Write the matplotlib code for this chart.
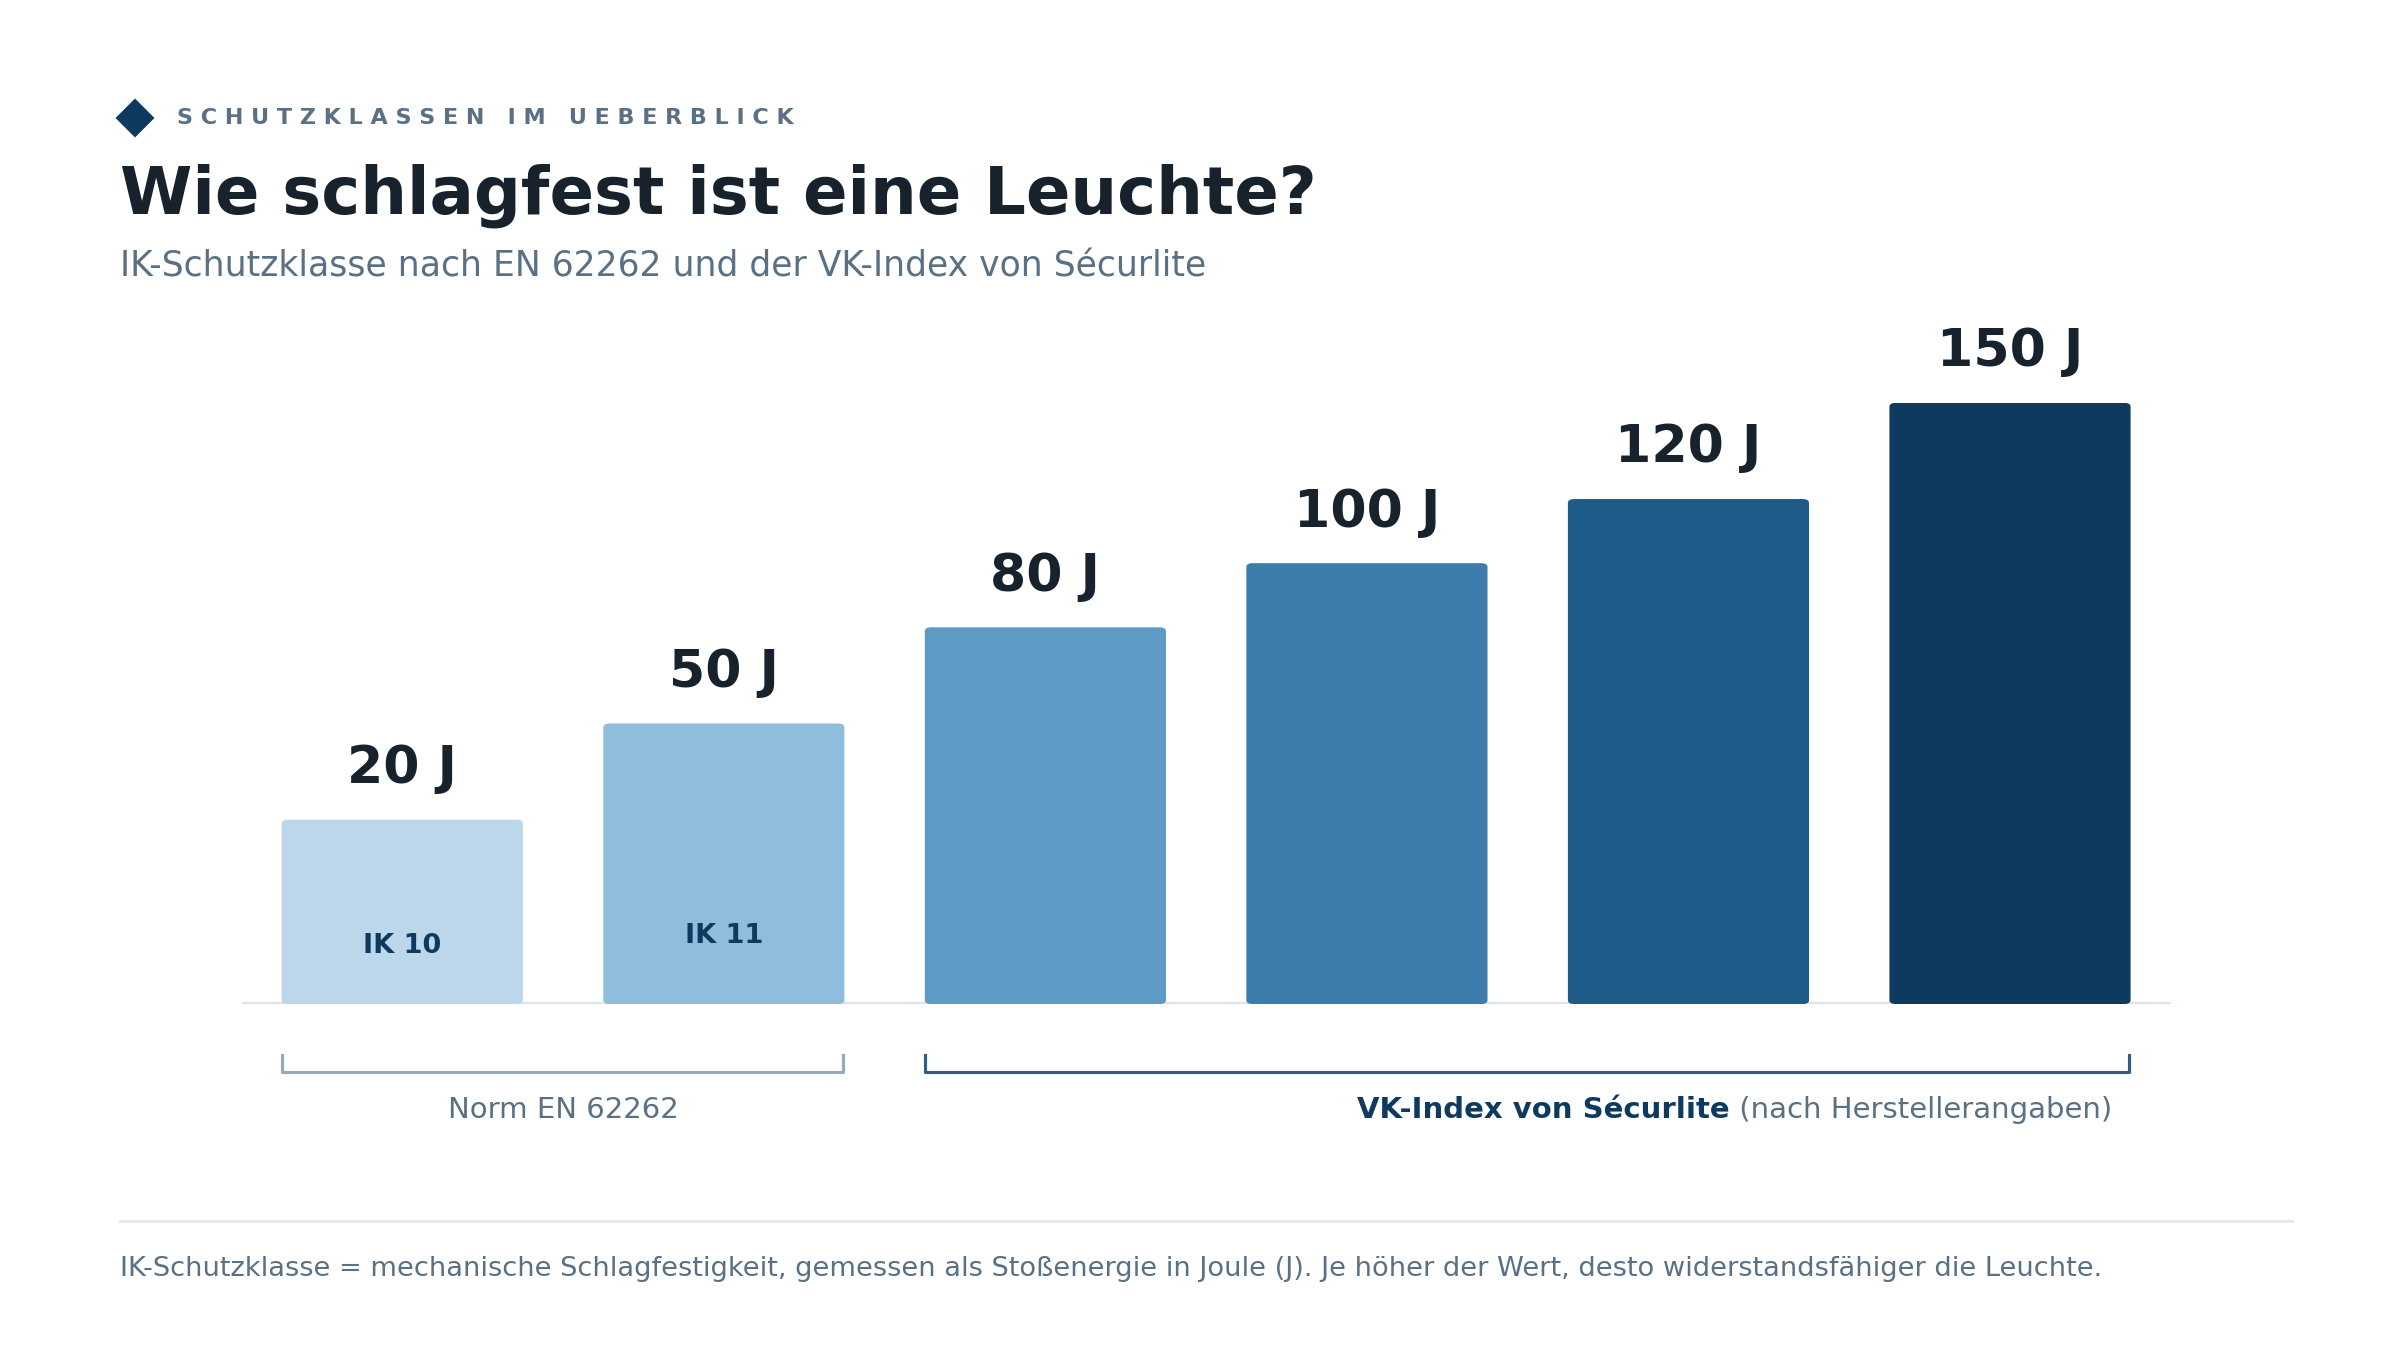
import matplotlib.pyplot as plt
from matplotlib.patches import FancyBboxPatch

labels = ["IK 10", "IK 11", "VK 80", "VK 100", "VK 120", "VK 150"]
values = [20, 50, 80, 100, 120, 150]
inner_labels = ["IK 10", "IK 11", "", "", "", ""]
colors = ["#bcd6ea", "#8fbddc", "#5d9bc6", "#3c7dab", "#1f5b88", "#0f3a5f"]

DARK = "#17222c"
GRAY = "#5a7085"
NAVY = "#0f3a5f"
W, H = 1560, 878  # layout grid in reference pixels

def fx(px):
    return px / W

def fy(py):
    return 1 - py / H

fig = plt.figure(figsize=(16, 9), dpi=150)

# header
fig.add_artist(plt.Line2D([fx(88)], [fy(77)], marker="D", markersize=12,
                          color=NAVY, transform=fig.transFigure))
head = "   ".join(" ".join(w) for w in "SCHUTZKLASSEN IM UEBERBLICK".split())
fig.text(fx(115), fy(77), head, fontsize=10.7, fontweight="bold", color=GRAY, va="center")
fig.text(fx(78), fy(127), "Wie schlagfest ist eine Leuchte?", fontsize=31.5,
         fontweight="bold", color=DARK, va="center")
fig.text(fx(78), fy(173), "IK-Schutzklasse nach EN 62262 und der VK-Index von Sécurlite",
         fontsize=16.6, color=GRAY, va="center")

# bars
base = -37.5
ax = fig.add_axes([fx(157), fy(653), fx(1411) - fx(157), (653 - 262) / H])
for i, v in enumerate(values):
    ax.add_patch(FancyBboxPatch((i - 0.375, base), 0.75, v - base,
                                boxstyle="round,pad=0,rounding_size=0.02",
                                mutation_aspect=60, color=colors[i], lw=0))
    ax.text(i, v + 8, f"{v} J", ha="center", va="bottom", fontsize=25,
            fontweight="bold", color=DARK)
for i, (t, yy) in enumerate(zip(inner_labels[:2], [-19.3, -16.4])):
    ax.text(i, yy, t, ha="center", va="center", fontsize=13, fontweight="bold", color=NAVY)
ax.set_xlim(-0.5, 5.5)
ax.set_ylim(base, 150)
ax.axhline(base, color="#dbe4ec", lw=2.5, zorder=0)
ax.axis("off")

# brackets
def bracket(x0, x1, c):
    fig.add_artist(plt.Line2D([fx(x0), fx(x0), fx(x1), fx(x1)],
                              [fy(686), fy(697), fy(697), fy(686)],
                              transform=fig.transFigure, color=c, lw=1.5))

bracket(183, 548, "#9aa8b5")
bracket(601, 1384, "#2f5f88")
fig.text(fx(366), fy(722), "Norm EN 62262", ha="center", va="center", fontsize=14, color=GRAY)
t2 = fig.text(fx(1373), fy(722), " (nach Herstellerangaben)", ha="right", va="center",
              fontsize=14, color=GRAY)
fig.canvas.draw()
bb = t2.get_window_extent().transformed(fig.transFigure.inverted())
fig.text(bb.x0, fy(722), "VK-Index von Sécurlite", ha="right", va="center",
         fontsize=14, fontweight="bold", color=NAVY)

# footer
fig.add_artist(plt.Line2D([fx(78), fx(1490)], [fy(794), fy(794)],
                          transform=fig.transFigure, color="#e6e9ec", lw=1.5))
fig.text(fx(78), fy(825), "IK-Schutzklasse = mechanische Schlagfestigkeit, gemessen als Stoßenergie "
         "in Joule (J). Je höher der Wert, desto widerstandsfähiger die Leuchte.",
         fontsize=13.1, color=GRAY, va="center")

fig.savefig("out.png", dpi=150, facecolor="white")
